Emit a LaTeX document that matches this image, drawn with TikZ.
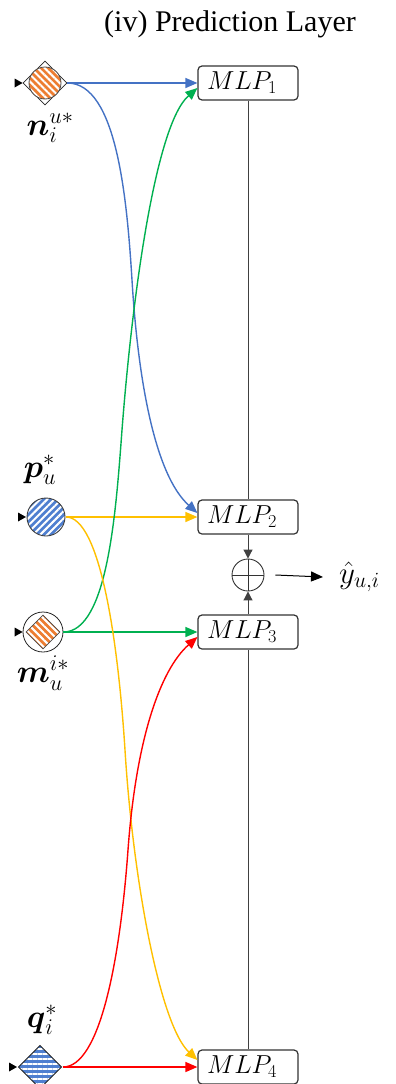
\RequirePackage{fix-cm}
\documentclass[tikz,border=0pt]{standalone}
\usepackage{amsmath}
\usepackage{fontspec}
\setmainfont{Liberation Serif}
\usetikzlibrary{arrows.meta,shapes.geometric,patterns.meta}
\definecolor{cblue}{HTML}{4472C4}
\definecolor{cgreen}{HTML}{00B050}
\definecolor{cyellow}{HTML}{FFC000}
\definecolor{cred}{HTML}{FF0000}
\definecolor{corange}{HTML}{ED7D31}
\definecolor{cpblue}{HTML}{4F7FD0}
\begin{document}
\begin{tikzpicture}[x=1pt,y=-1pt,
  mlpbox/.style={draw=black!80, line width=1.2pt, rounded corners=4pt, fill=white,
    minimum width=100pt, minimum height=34pt, inner sep=0pt, font=\fontsize{26}{29}\selectfont},
  lbl/.style={font=\fontsize{32}{36}\selectfont, inner sep=0pt},
  con/.style={line width=1.4pt, -{Triangle[length=12pt,width=10pt]}},
  orangestripes/.style={preaction={fill=corange}, pattern={Lines[angle=-45,distance=5pt,line width=2pt]}, pattern color=white},
  bluestripes/.style={preaction={fill=cpblue}, pattern={Lines[angle=45,distance=5pt,line width=2pt]}, pattern color=white},
  bluehstripes/.style={preaction={fill=cpblue}, pattern={Lines[angle=0,distance=5pt,line width=2pt]}, pattern color=white},
  intip/.style={fill=black},
  vline/.style={draw=black!75, line width=1pt},
  vtip/.style={vline, -{Triangle[length=9pt,width=9pt]}}
]
\useasboundingbox (0,0) rectangle (396,1084);

% title
\node[font=\fontsize{30}{34}\selectfont] (title) at (230,24) {(iv) Prediction Layer};

% input nodes
\node[diamond, draw=black!85, line width=0.8pt, fill=white, minimum width=44pt, minimum height=44pt, inner sep=0pt] (n) at (45,83) {};
\node[circle, draw=black!70, line width=0.8pt, minimum size=32pt, inner sep=0pt, orangestripes] (nin) at (45,83) {};
\node[lbl] (nl) at (50,128) {$\boldsymbol{n}_i^{u*}$};

\node[circle, draw=black!75, line width=0.9pt, minimum size=38pt, inner sep=0pt, bluestripes] (p) at (46,517) {};
\node[lbl] (pl) at (40,470) {$\boldsymbol{p}_u^{*}$};

\node[circle, draw=black!85, line width=0.8pt, fill=white, minimum size=40pt, inner sep=0pt] (m) at (43,632) {};
\node[diamond, draw=black!70, line width=0.8pt, minimum width=34pt, minimum height=34pt, inner sep=0pt, orangestripes] (min) at (43,632) {};
\node[lbl] (ml) at (43,673) {$\boldsymbol{m}_u^{i*}$};

\node[diamond, draw=black!85, line width=0.9pt, minimum width=44pt, minimum height=44pt, inner sep=0pt, bluehstripes] (q) at (40,1067) {};
\node[lbl] (ql) at (42,1020) {$\boldsymbol{q}_i^{*}$};

% small input tips
\foreach \s in {n,p,m,q}{
  \fill[intip] ([xshift=-8pt,yshift=4.5pt]\s.west) -- (\s.west) -- ([xshift=-8pt,yshift=-4.5pt]\s.west) -- cycle;
}

% MLP boxes
\node[mlpbox] (mlp1) at (248,83) {$MLP_1$\kern12pt};
\node[mlpbox] (mlp2) at (248,517) {$MLP_2$\kern12pt};
\node[mlpbox] (mlp3) at (248,632) {$MLP_3$\kern12pt};
\node[mlpbox] (mlp4) at (248,1067) {$MLP_4$\kern12pt};

% combination
\node[circle, draw=black!80, line width=0.9pt, minimum size=32pt, inner sep=0pt,
  path picture={\draw[black!80, line width=0.9pt] (path picture bounding box.north) -- (path picture bounding box.south)
  (path picture bounding box.west) -- (path picture bounding box.east);}] (op) at (248,575) {};
\node[font=\fontsize{31}{34}\selectfont, anchor=west, inner sep=0pt] (yh) at (339,577) {$\hat{y}_{u,i}$};

\draw[vline] (mlp1.south) -- (mlp2.north);
\draw[vline] (mlp4.north) -- (mlp3.south);
\draw[vtip] (mlp2.south) -- (op.north);
\draw[vtip] (mlp3.north) -- (op.south);
\draw[black, line width=1pt, -{Triangle[length=12pt,width=10pt]}] ([xshift=11pt]op.east) -- ([xshift=-16pt]yh.west);

% straight connectors
\draw[con, cblue] (n.east) -- (mlp1.west);
\draw[con, cyellow] (p.east) -- (mlp2.west);
\draw[con, cgreen] (m.east) -- (mlp3.west);
\draw[con, cred] (q.east) -- (mlp4.west);

% curved connectors
\draw[con, cblue] (n.east) .. controls (117,83) and (127,200) .. (132,280)
  .. controls (138,380) and (155,475) .. ([yshift=4pt]mlp2.west);
\draw[con, cgreen] (m.east) .. controls (108,632) and (116,510) .. (122,430)
  .. controls (132,300) and (155,125) .. ([yshift=-5pt]mlp1.west);
\draw[con, cyellow] (p.east) .. controls (100,517) and (118,640) .. (125,750)
  .. controls (133,880) and (160,1025) .. ([yshift=7pt]mlp4.west);
\draw[con, cred] (q.east) .. controls (100,1067) and (120,960) .. (128,850)
  .. controls (136,740) and (160,670) .. ([yshift=-5pt]mlp3.west);
\end{tikzpicture}
\end{document}
